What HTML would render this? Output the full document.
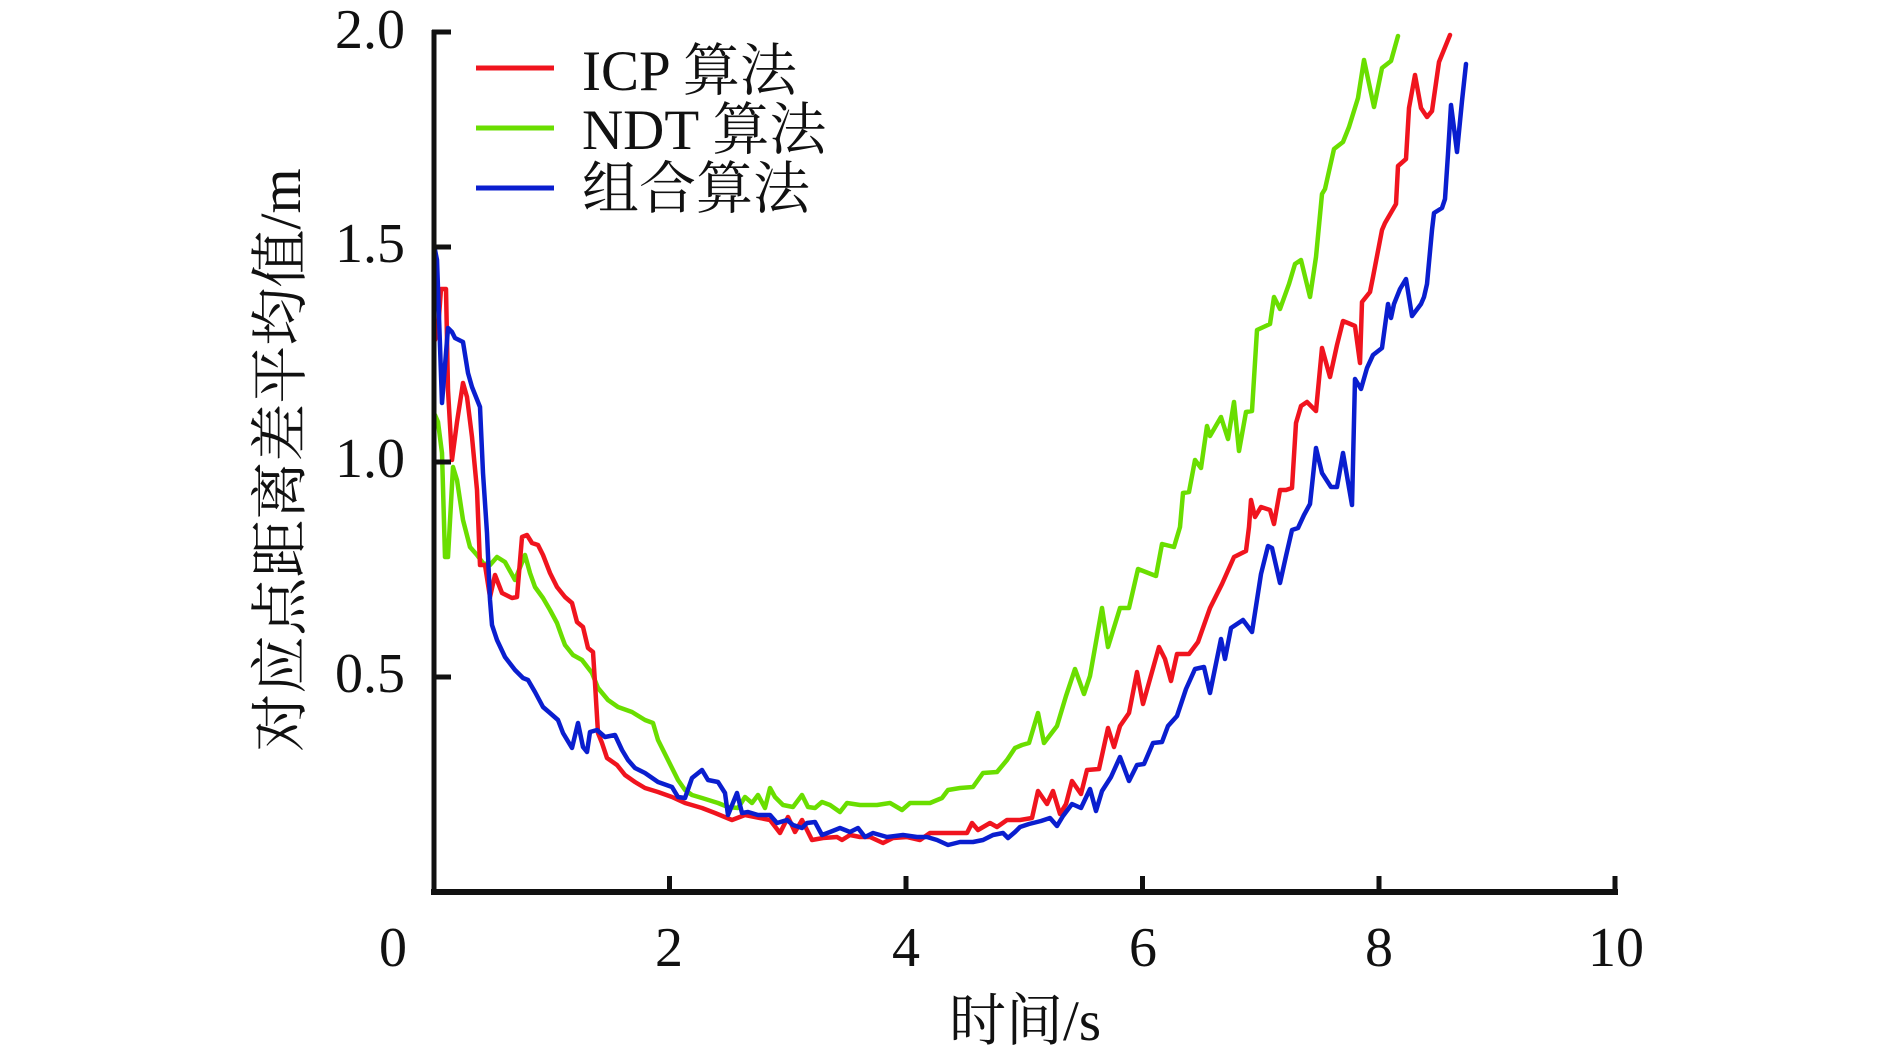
<!DOCTYPE html>
<html>
<head>
<meta charset="utf-8">
<style>
  html, body { margin: 0; padding: 0; background: #ffffff; }
  body { width: 1890px; height: 1057px; overflow: hidden; }
  svg { display: block; }
  text { font-family: "Liberation Serif", "Noto Serif CJK SC", serif; fill: #111; }
</style>
</head>
<body>
<svg width="1890" height="1057" viewBox="0 0 1890 1057" xmlns="http://www.w3.org/2000/svg">
  <rect x="0" y="0" width="1890" height="1057" fill="#ffffff"/>

  <!-- Curves -->
  <g fill="none" stroke-width="4.5" stroke-linejoin="round" stroke-linecap="round">
    <!-- NDT (green) -->
    <polyline stroke="#6ade00" points="435,415 438,422 442,453 445,557 448,557 453,467 457,480 463,520 470,547 477,555 483,563 490,565 497,557 505,562 515,580 525,555 530,573 535,587 543,598 550,610 557,623 562,637 565,645 573,655 582,660 592,673 598,688 608,700 618,707 632,712 645,720 653,723 658,740 668,760 678,780 685,790 692,795 702,798 718,803 728,807 738,808 745,797 752,803 758,795 765,808 770,788 775,797 783,805 793,807 802,795 808,807 815,808 822,802 830,805 840,812 847,803 860,805 877,805 890,803 902,810 910,803 920,803 930,803 942,798 948,790 960,788 973,787 983,773 997,772 1007,760 1015,748 1022,745 1029,743 1038,713 1044,743 1057,726 1066,696 1075,669 1084,694 1090,676 1102,608 1108,647 1120,608 1129,608 1138,569 1156,576 1162,544 1174,547 1180,527 1183,493 1189,492 1195,460 1201,468 1207,426 1210,436 1221,417 1228,439 1234,402 1239,451 1246,412 1252,411 1257,330 1270,324 1274,297 1280,309 1289,284 1295,264 1301,260 1310,297 1316,257 1322,194 1325,189 1334,149 1343,142 1349,127 1358,98 1364,60 1374,107 1382,68 1391,61 1398,36"/>
    <!-- ICP (red) -->
    <polyline stroke="#f0141e" points="435,340 438,330 441,289 446,289 448,390 452,460 457,422 463,383 467,397 472,437 477,490 480,565 485,565 490,597 495,575 502,593 512,598 517,597 522,537 527,535 532,543 538,545 543,555 550,573 557,587 565,597 572,603 577,622 583,627 588,648 593,652 595,683 598,733 602,743 607,758 617,765 625,775 635,782 645,788 658,792 672,797 685,803 702,808 715,813 732,820 745,815 760,818 770,820 780,833 788,817 795,832 802,820 812,840 823,838 837,837 842,840 850,835 860,837 870,837 883,843 893,838 907,837 920,840 930,833 947,833 967,833 972,823 978,830 990,823 997,827 1007,820 1020,820 1032,818 1038,791 1047,804 1053,791 1060,814 1066,804 1072,781 1081,794 1087,770 1099,769 1108,728 1114,747 1120,726 1129,713 1137,672 1143,704 1150,679 1159,647 1165,659 1171,681 1177,654 1189,654 1198,642 1210,608 1222,584 1234,557 1246,551 1249,527 1251,500 1255,517 1261,507 1270,510 1274,524 1280,490 1286,490 1292,488 1296,423 1301,406 1307,402 1316,411 1322,348 1330,377 1337,345 1343,321 1348,323 1355,326 1360,363 1362,302 1370,292 1373,277 1382,230 1385,223 1396,204 1398,166 1406,159 1409,108 1415,75 1421,108 1427,117 1432,111 1439,62 1450,35"/>
    <!-- Combined (blue) -->
    <polyline stroke="#0a1ecf" points="435,250 437,260 442,403 448,328 452,332 455,338 463,342 468,373 472,387 480,407 483,473 487,533 490,600 492,625 497,640 505,657 515,670 523,678 528,680 535,692 543,707 550,713 558,720 563,733 572,748 578,723 583,747 587,752 590,732 597,730 605,737 615,735 622,750 628,760 635,768 645,773 658,782 672,787 678,797 685,798 692,778 702,770 708,780 718,782 725,793 728,815 737,793 742,813 748,812 758,815 770,815 777,823 787,820 793,825 802,828 807,823 815,822 822,835 830,832 840,828 850,832 858,828 865,837 873,833 887,837 903,835 917,837 927,837 937,840 948,845 960,842 973,842 983,840 993,835 1003,833 1008,838 1015,832 1020,827 1029,824 1041,821 1050,818 1057,826 1063,816 1072,804 1081,808 1090,789 1096,811 1102,791 1111,777 1120,757 1129,781 1137,765 1144,764 1153,743 1162,742 1168,726 1177,716 1186,689 1195,669 1204,667 1210,693 1221,639 1225,659 1231,628 1243,620 1252,632 1261,574 1268,546 1272,548 1280,583 1286,556 1292,530 1298,528 1304,515 1310,504 1316,448 1322,473 1331,487 1337,487 1343,453 1352,505 1355,379 1361,389 1367,368 1373,355 1382,348 1388,304 1391,318 1394,304 1400,289 1406,279 1412,316 1421,304 1424,297 1427,284 1432,230 1434,213 1442,208 1445,199 1448,154 1451,105 1454,128 1457,152 1462,101 1466,64"/>
  </g>

  <!-- Axes -->
  <g stroke="#111" fill="none">
    <line x1="434" y1="30" x2="434" y2="895" stroke-width="5"/>
    <line x1="431" y1="892" x2="1618" y2="892" stroke-width="6"/>
    <!-- y ticks -->
    <line x1="432" y1="32" x2="451" y2="32" stroke-width="5"/>
    <line x1="434" y1="247" x2="451" y2="247" stroke-width="5"/>
    <line x1="434" y1="462" x2="451" y2="462" stroke-width="5"/>
    <line x1="434" y1="677" x2="451" y2="677" stroke-width="5"/>
    <!-- x ticks -->
    <line x1="669.5" y1="876" x2="669.5" y2="892" stroke-width="5"/>
    <line x1="906" y1="876" x2="906" y2="892" stroke-width="5"/>
    <line x1="1142.5" y1="876" x2="1142.5" y2="892" stroke-width="5"/>
    <line x1="1379" y1="876" x2="1379" y2="892" stroke-width="5"/>
    <line x1="1615" y1="876" x2="1615" y2="895" stroke-width="5"/>
  </g>

  <!-- Y tick labels -->
  <g font-size="56" text-anchor="end">
    <text x="405" y="48">2.0</text>
    <text x="405" y="262">1.5</text>
    <text x="405" y="477">1.0</text>
    <text x="405" y="692">0.5</text>
  </g>

  <!-- X tick labels -->
  <g font-size="56" text-anchor="middle">
    <text x="393" y="966">0</text>
    <text x="669" y="966">2</text>
    <text x="906" y="966">4</text>
    <text x="1143" y="966">6</text>
    <text x="1379" y="966">8</text>
    <text x="1616" y="966">10</text>
  </g>

  <!-- Axis titles -->
  <text x="1025" y="1040" font-size="57" text-anchor="middle">时间/s</text>
  <text transform="translate(300,460) rotate(-90)" font-size="58" text-anchor="middle">对应点距离差平均值/m</text>

  <!-- Legend -->
  <g stroke-width="5" stroke-linecap="butt">
    <line x1="476" y1="68" x2="554" y2="68" stroke="#f0141e"/>
    <line x1="476" y1="128" x2="554" y2="128" stroke="#6ade00"/>
    <line x1="476" y1="188" x2="554" y2="188" stroke="#0a1ecf"/>
  </g>
  <g font-size="57">
    <text x="582" y="90">ICP 算法</text>
    <text x="582" y="149">NDT 算法</text>
    <text x="582" y="208">组合算法</text>
  </g>
</svg>
</body>
</html>
